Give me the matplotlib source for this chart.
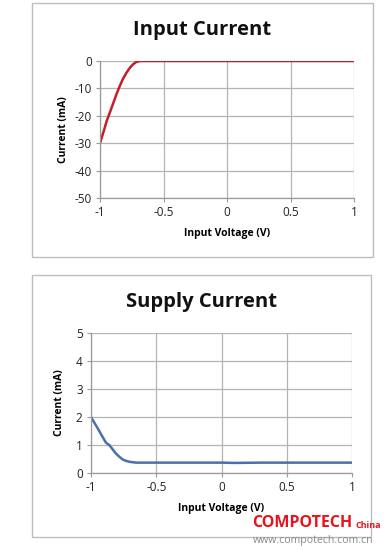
import matplotlib
matplotlib.use("Agg")
import matplotlib.pyplot as plt
from matplotlib.patches import Rectangle

# Data
input_v = [-1.0, -0.97, -0.948, -0.92, -0.896, -0.87, -0.844, -0.82, -0.792, -0.765, -0.74, -0.715, -0.688, -0.65, -0.5, 0.0, 0.5, 1.0]
input_i = [-30, -25.5, -22, -18.5, -15.4, -12.1, -9.1, -6.6, -4.3, -2.5, -1.2, -0.4, 0, 0, 0, 0, 0, 0]

supply_v = [-1.0, -0.975, -0.949, -0.915, -0.885, -0.86, -0.835, -0.81, -0.783, -0.756, -0.73, -0.705, -0.654, -0.6, -0.5, -0.4, -0.2, 0.0, 0.1, 0.3, 0.5, 0.7, 1.0]
supply_i = [2.0, 1.8, 1.6, 1.32, 1.08, 1.0, 0.85, 0.7, 0.58, 0.48, 0.43, 0.40, 0.37, 0.37, 0.37, 0.37, 0.37, 0.37, 0.36, 0.37, 0.37, 0.37, 0.37]

x_ticks = [-1, -0.5, 0, 0.5, 1]
x_ticklabels = ["-1", "-0.5", "0", "0.5", "1"]
top_yticks = [0, -10, -20, -30, -40, -50]
top_yticklabels = ["0", "-10", "-20", "-30", "-40", "-50"]
bot_yticks = [0, 1, 2, 3, 4, 5]
bot_yticklabels = ["0", "1", "2", "3", "4", "5"]

W, H = 391, 550
plt.rcParams['font.family'] = ['Open Sans', 'DejaVu Sans']
plt.rcParams['axes.unicode_minus'] = False
fig = plt.figure(figsize=(W / 100, H / 100), dpi=100)

def fx(px):
    return px / W

def fy(py):
    return 1 - py / H

def add_box(x0, y0, x1, y1):
    fig.patches.append(Rectangle((fx(x0), fy(y1)), fx(x1) - fx(x0), fy(y0) - fy(y1),
                                 transform=fig.transFigure, fill=False,
                                 edgecolor="#BDBDBD", linewidth=1.0))

def add_axes(x0, y_top, x1, y_bot):
    return fig.add_axes([fx(x0), fy(y_bot), fx(x1) - fx(x0), fy(y_top) - fy(y_bot)])

grid_c = "#B4B4B4"

def style(ax, yticks, yticklabels, ylim):
    ax.set_xlim(-1, 1)
    ax.set_ylim(*ylim)
    ax.set_xticks(x_ticks)
    ax.set_xticklabels(x_ticklabels)
    ax.set_yticks(yticks)
    ax.set_yticklabels(yticklabels)
    ax.grid(True, color=grid_c, linewidth=0.9)
    for s in ["top", "right"]:
        ax.spines[s].set_visible(False)
    for s in ["left", "bottom"]:
        ax.spines[s].set_color("#9A9A9A")
        ax.spines[s].set_linewidth(0.9)
    ax.tick_params(axis="both", length=3, color="#9A9A9A", labelsize=8.5, labelcolor="#222222", pad=3)
    ax.set_axisbelow(True)

# Top chart
add_box(32, 3, 373, 257)
ax1 = add_axes(100, 61, 354, 198)
ax1.plot(input_v, input_i, color="#C0202C", linewidth=1.8)
style(ax1, top_yticks, top_yticklabels, (-50, 0))
ax1.set_xlabel("Input Voltage (V)", fontsize=7.5, fontweight="bold", labelpad=6)
ax1.set_ylabel("Current (mA)", fontsize=7.5, fontweight="bold", labelpad=4)
fig.text(fx(202), fy(30), "Input Current", fontsize=14.5, fontweight="bold", ha="center", va="center", color="#111111")

# Bottom chart
add_box(32, 275, 371, 537)
ax2 = add_axes(91, 333, 352, 473)
ax2.plot(supply_v, supply_i, color="#4A6FAF", linewidth=1.8)
style(ax2, bot_yticks, bot_yticklabels, (0, 5))
ax2.set_xlabel("Input Voltage (V)", fontsize=7.5, fontweight="bold", labelpad=6)
ax2.set_ylabel("Current (mA)", fontsize=7.5, fontweight="bold", labelpad=8)
fig.text(fx(202), fy(302), "Supply Current", fontsize=14.5, fontweight="bold", ha="center", va="center", color="#111111")

# Watermark
fig.text(fx(252), fy(523), "COMPOTECH", fontsize=11.5, fontweight="bold", color="#E8141B",
         ha="left", va="center")
fig.text(fx(355), fy(525), "China", fontsize=6.5, fontweight="bold", color="#E8141B", ha="left", va="center")
fig.text(fx(253), fy(541), "www.compotech.com.cn", fontsize=7.6, color="#8A8A8A", ha="left", va="center")

fig.savefig("out.png", dpi=100)
